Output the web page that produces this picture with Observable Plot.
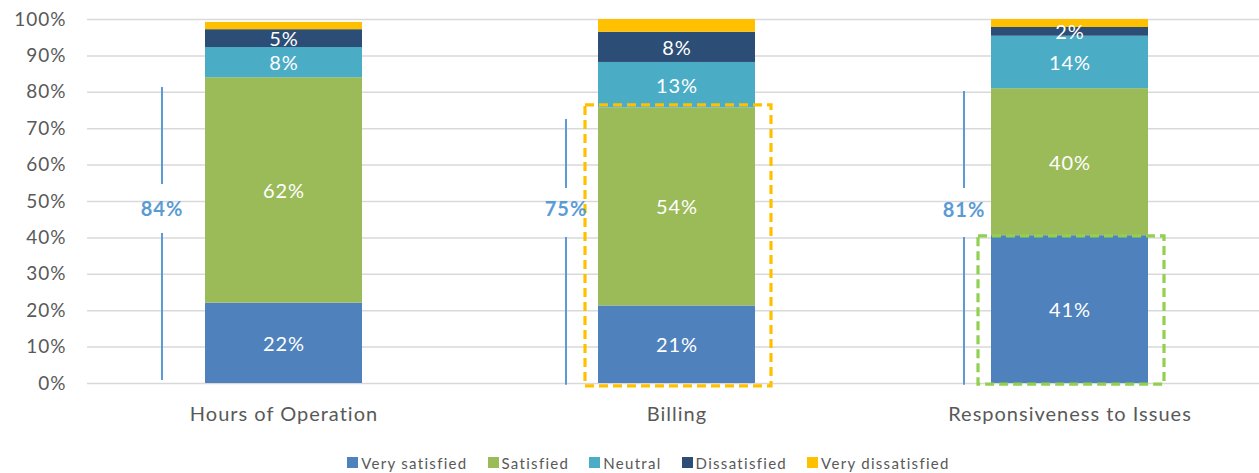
<!DOCTYPE html>
<html>
<head>
<meta charset="utf-8">
<script src="https://cdn.jsdelivr.net/npm/d3@7"></script>
<script src="https://cdn.jsdelivr.net/npm/@observablehq/plot@0.6"></script>
<style>
  html, body { margin: 0; padding: 0; background: #fff; }
  body { width: 1259px; height: 473px; overflow: hidden; font-family: Lato, "Open Sans", sans-serif; }
  #chart svg text { letter-spacing: 1px; }
  #legend { display: flex; justify-content: center; align-items: center; gap: 20px; height: 25px; font-size: 15px; color: #595959; padding-left: 38px; padding-top: 2px; letter-spacing: 1.3px; }
  #legend .item { display: flex; align-items: center; gap: 3px; }
  #legend .sw { width: 11px; height: 11px; display: inline-block; }
</style>
</head>
<body>
<div id="chart"></div>
<div id="legend"></div>
<script>
// ---- data ----
const categories = ["Hours of Operation", "Billing", "Responsiveness to Issues"];
const seriesNames = ["Very satisfied", "Satisfied", "Neutral", "Dissatisfied", "Very dissatisfied"];
const verySatisfied    = [22.1, 21.3, 40.6];
const satisfied        = [61.9, 54.4, 40.4];
const neutral          = [8.3, 12.5, 14.4];
const dissatisfied     = [4.9, 8.3, 2.4];
const veryDissatisfied = [2.0, 3.5, 2.2];
const totalSatisfiedLabels = ["84%", "75%", "81%"];
const yTicks = [0, 10, 20, 30, 40, 50, 60, 70, 80, 90, 100];
const colors = ["#4F81BD", "#9BBB59", "#4BACC6", "#2C4D75", "#FFC000"];

// annotation brackets (value ranges in %)
const bracketLower = [[0.8, 41.2], [-0.5, 40.1], [-0.5, 40.1]];
const bracketUpper = [[54.7, 81.3], [53.6, 72.5], [53.6, 80.2]];
const bracketLabelY = [47.8, 47.8, 47.6];
const bracketDx = [-122, -111, -106];
// highlight boxes
const boxes = [
  {cat: "Billing", y1: -0.8, y2: 76.4, color: "#FFC000"},
  {cat: "Responsiveness to Issues", y1: -0.3, y2: 40.4, color: "#92D050"}
];

const seriesValues = [verySatisfied, satisfied, neutral, dissatisfied, veryDissatisfied];
const data = [];
categories.forEach((c, i) => {
  seriesNames.forEach((s, j) => data.push({cat: c, series: s, value: seriesValues[j][i]}));
});

const marks = [
  Plot.gridY(yTicks, {stroke: "#D9D9D9", strokeOpacity: 1, strokeWidth: 1.5}),
  Plot.barY(data, Plot.stackY({x: "cat", y: "value", fill: "series", order: seriesNames})),
  Plot.text(data, Plot.stackY({
    x: "cat", y: "value", z: "series", order: seriesNames,
    text: d => d.series === "Very dissatisfied" ? null : Math.round(d.value) + "%",
    fill: "white", fontSize: 20, dy: 1
  })),
  ...boxes.map(b => Plot.barY([b], {
    x: "cat", y1: "y1", y2: "y2", fill: "none", stroke: b.color, strokeWidth: 3.2,
    strokeDasharray: "9,5", insetLeft: -13, insetRight: -16
  }))
];
categories.forEach((c, i) => {
  marks.push(Plot.ruleX([c], {y1: bracketLower[i][0], y2: bracketLower[i][1], stroke: "#5B9BD5", strokeWidth: 2, dx: bracketDx[i]}));
  marks.push(Plot.ruleX([c], {y1: bracketUpper[i][0], y2: bracketUpper[i][1], stroke: "#5B9BD5", strokeWidth: 2, dx: bracketDx[i]}));
  marks.push(Plot.text([c], {x: d => d, y: () => bracketLabelY[i], text: () => totalSatisfiedLabels[i], fill: "#5B9BD5", fontWeight: "bold", fontSize: 20, dx: bracketDx[i]}));
});
marks.push(Plot.axisY(yTicks, {tickFormat: d => d + "%", tickSize: 0, tickPadding: 21, fontSize: 19, fill: "#595959", label: null}));
marks.push(Plot.axisX({tickSize: 0, tickPadding: 23, fontSize: 20, fill: "#595959", label: null}));

const chart = Plot.plot({
  width: 1259,
  height: 448,
  marginLeft: 87,
  marginRight: 0,
  marginTop: 19,
  marginBottom: 65,
  style: {fontFamily: "Lato, 'Open Sans', sans-serif", background: "#fff"},
  x: {domain: categories, range: [87, 1266], paddingInner: 0.6, paddingOuter: 0.3, label: null},
  y: {domain: [0, 100], label: null},
  color: {domain: seriesNames, range: colors},
  marks
});
document.getElementById("chart").appendChild(chart);

const legend = document.getElementById("legend");
seriesNames.forEach((s, j) => {
  const it = document.createElement("span");
  it.className = "item";
  it.innerHTML = `<span class="sw" style="background:${colors[j]}"></span><span>${s}</span>`;
  legend.appendChild(it);
});
</script>
</body>
</html>
